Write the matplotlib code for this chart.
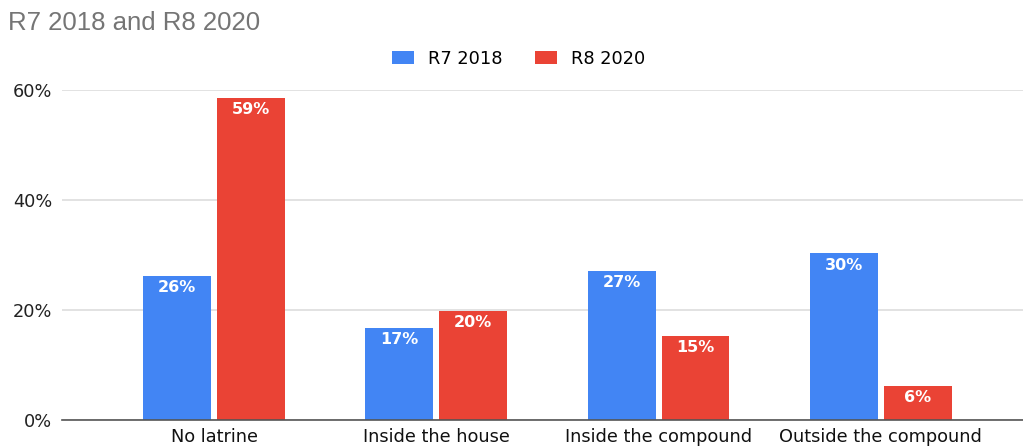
import numpy as np
from matplotlib import pyplot as plt

plt.rcParams['font.family'] = ['DejaVu Sans']

# data
categories = ['No latrine', 'Inside the house', 'Inside the compound', 'Outside the compound']
series_names = ['R7 2018', 'R8 2020']
r7_2018 = [26.2, 16.7, 27.1, 30.3]
r8_2020 = [58.6, 19.8, 15.3, 6.2]
yticks = [0, 20, 40, 60]
colors = ['#4285f4', '#ea4335']

fig = plt.figure(figsize=(10.23, 4.46), dpi=100)
ax = fig.add_axes([0.0606, 0.058, 0.9394, 0.74])

x = np.arange(len(categories))
w = 0.305
off = 0.166
bars = []
for vals, name, c, d in zip([r7_2018, r8_2020], series_names, colors, [-off, off]):
    b = ax.bar(x + d, vals, w, color=c, label=name, zorder=3)
    bars.append(b)
    for xi, v in zip(x + d, vals):
        ax.annotate(f'{round(v)}%', (xi, v), xytext=(0, -3), textcoords='offset points',
                    ha='center', va='top', color='white', fontsize=11.5, fontweight='bold', zorder=4)

ax.set_xlim(-0.684, 3.64)
ax.set_ylim(0, 60)
ax.set_yticks(yticks)
ax.set_yticklabels([f'{t}%' for t in yticks], fontsize=12.8, color='#222222')
ax.set_xticks(x)
ax.set_xticklabels(categories, fontsize=12.8, color='#111111')
ax.tick_params(length=0)
ax.tick_params(axis='x', pad=6)
ax.tick_params(axis='y', pad=7)
for s in ['top', 'right', 'left']:
    ax.spines[s].set_visible(False)
ax.spines['bottom'].set_color('#555555')
ax.spines['bottom'].set_linewidth(1.2)
ax.spines['bottom'].set_zorder(5)
ax.yaxis.grid(True, color='#dddddd', linewidth=1.2, zorder=0)
ax.set_axisbelow(True)

fig.text(0.008, 0.948, 'R7 2018 and R8 2020', fontsize=18.5, color='#757575', va='center', ha='left',
         family='Liberation Sans')
fig.legend(handles=bars, labels=series_names, loc='center', bbox_to_anchor=(0.507, 0.868), ncol=2,
           frameon=False, fontsize=12.8, handlelength=1.26, handleheight=0.8, columnspacing=1.8,
           handletextpad=0.8)

plt.savefig('out.png', dpi=100)
